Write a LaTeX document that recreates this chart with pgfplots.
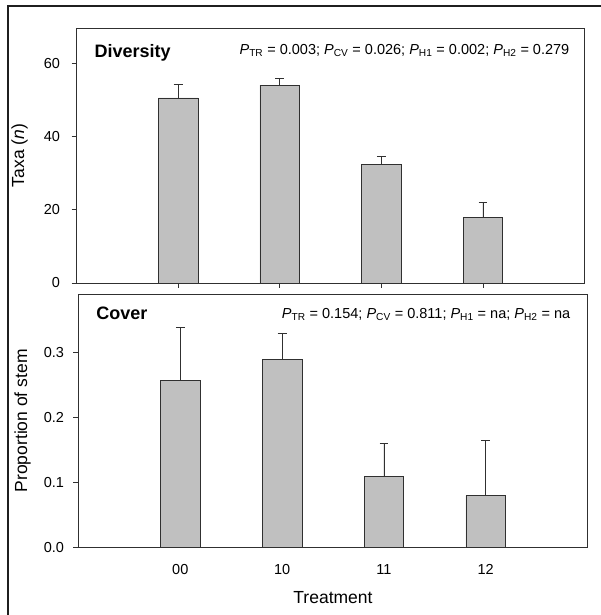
\documentclass[border=0pt]{standalone}
\usepackage{fontspec}
\setmainfont{Liberation Sans}
\usepackage{pgfplots}
\pgfplotsset{compat=1.18}
\definecolor{barfill}{HTML}{C0C0C0}
\definecolor{edge}{HTML}{303030}

\pgfplotstableread{
x y e
1 50.5 3.7
2 54.0 1.8
3 32.3 2.2
4 18.0 3.9
}\divdata
\pgfplotstableread{
x y e
1 0.257 0.081
2 0.289 0.040
3 0.110 0.050
4 0.080 0.085
}\covdata

\pgfplotsset{
 common/.style={
  scale only axis,
  axis line style={edge, line width=0.8pt},
  xmin=0, xmax=5, xtick={1,2,3,4},
  tick align=outside,
  tick style={edge, line width=0.8pt},
  major tick length=5pt,
  xtick pos=bottom, ytick pos=left,
  ymin=0,
  ybar, bar width=0.39,
  tick label style={font=\fontsize{14.5}{16}\selectfont},
  label style={font=\fontsize{17.5}{20}\selectfont},
  /pgf/number format/assume math mode=true,
  clip=false,
 },
 barplot/.style={fill=barfill, draw=edge, line width=0.7pt,
  error bars/.cd, y dir=plus, y explicit,
  error bar style={edge, line width=0.8pt},
  error mark options={edge, mark size=4.4pt, line width=0.8pt, rotate=90}},
}

\begin{document}
\begin{tikzpicture}
\useasboundingbox (0pt,0pt) rectangle (600pt,615pt);
\draw[line width=2.5pt, color=black!88] (8pt,-2pt) -- (8pt,609pt) -- (602pt,609pt);

\begin{axis}[common, at={(76.5pt,332pt)}, anchor=south west,
  width=508pt, height=255pt, ymax=69.6, ytick={0,20,40,60},
  yticklabel style={xshift=-8pt},
  xticklabels={},
  ylabel={Taxa (\textit{n})},
  ylabel style={at={(axis description cs:-0.112,0.5)}, anchor=center}]
\addplot[barplot] table[x=x, y=y, y error=e]{\divdata};
\node[anchor=base west, font=\bfseries\fontsize{18}{20}\selectfont] at (axis description cs:0.0285,0.885) {Diversity};
\node[anchor=base east, font=\fontsize{14.5}{16}\selectfont] at (axis description cs:0.977,0.895) {\textit{P}\textsubscript{TR} = 0.003; \textit{P}\textsubscript{CV} = 0.026; \textit{P}\textsubscript{H1} = 0.002; \textit{P}\textsubscript{H2} = 0.279};
\end{axis}

\begin{axis}[common, at={(78.5pt,67.3pt)}, anchor=south west,
  width=509pt, height=253.7pt, ymax=0.39, ytick={0,0.1,0.2,0.3},
  yticklabel style={xshift=-6pt, /pgf/number format/.cd, fixed, fixed zerofill, precision=1},
  xticklabels={00,10,11,12},
  xticklabel style={yshift=-8pt},
  xtick style={draw=none},
  xlabel={Treatment},
  xlabel style={at={(axis description cs:0.5,-0.198)}, anchor=center},
  ylabel={Proportion of stem},
  ylabel style={at={(axis description cs:-0.110,0.5)}, anchor=center}]
\addplot[barplot] table[x=x, y=y, y error=e]{\covdata};
\node[anchor=base west, font=\bfseries\fontsize{18}{20}\selectfont] at (axis description cs:0.028,0.901) {Cover};
\node[anchor=base east, font=\fontsize{14.5}{16}\selectfont] at (axis description cs:0.973,0.905) {\textit{P}\textsubscript{TR} = 0.154; \textit{P}\textsubscript{CV} = 0.811; \textit{P}\textsubscript{H1} = na; \textit{P}\textsubscript{H2} = na};
\end{axis}
\end{tikzpicture}
\end{document}
